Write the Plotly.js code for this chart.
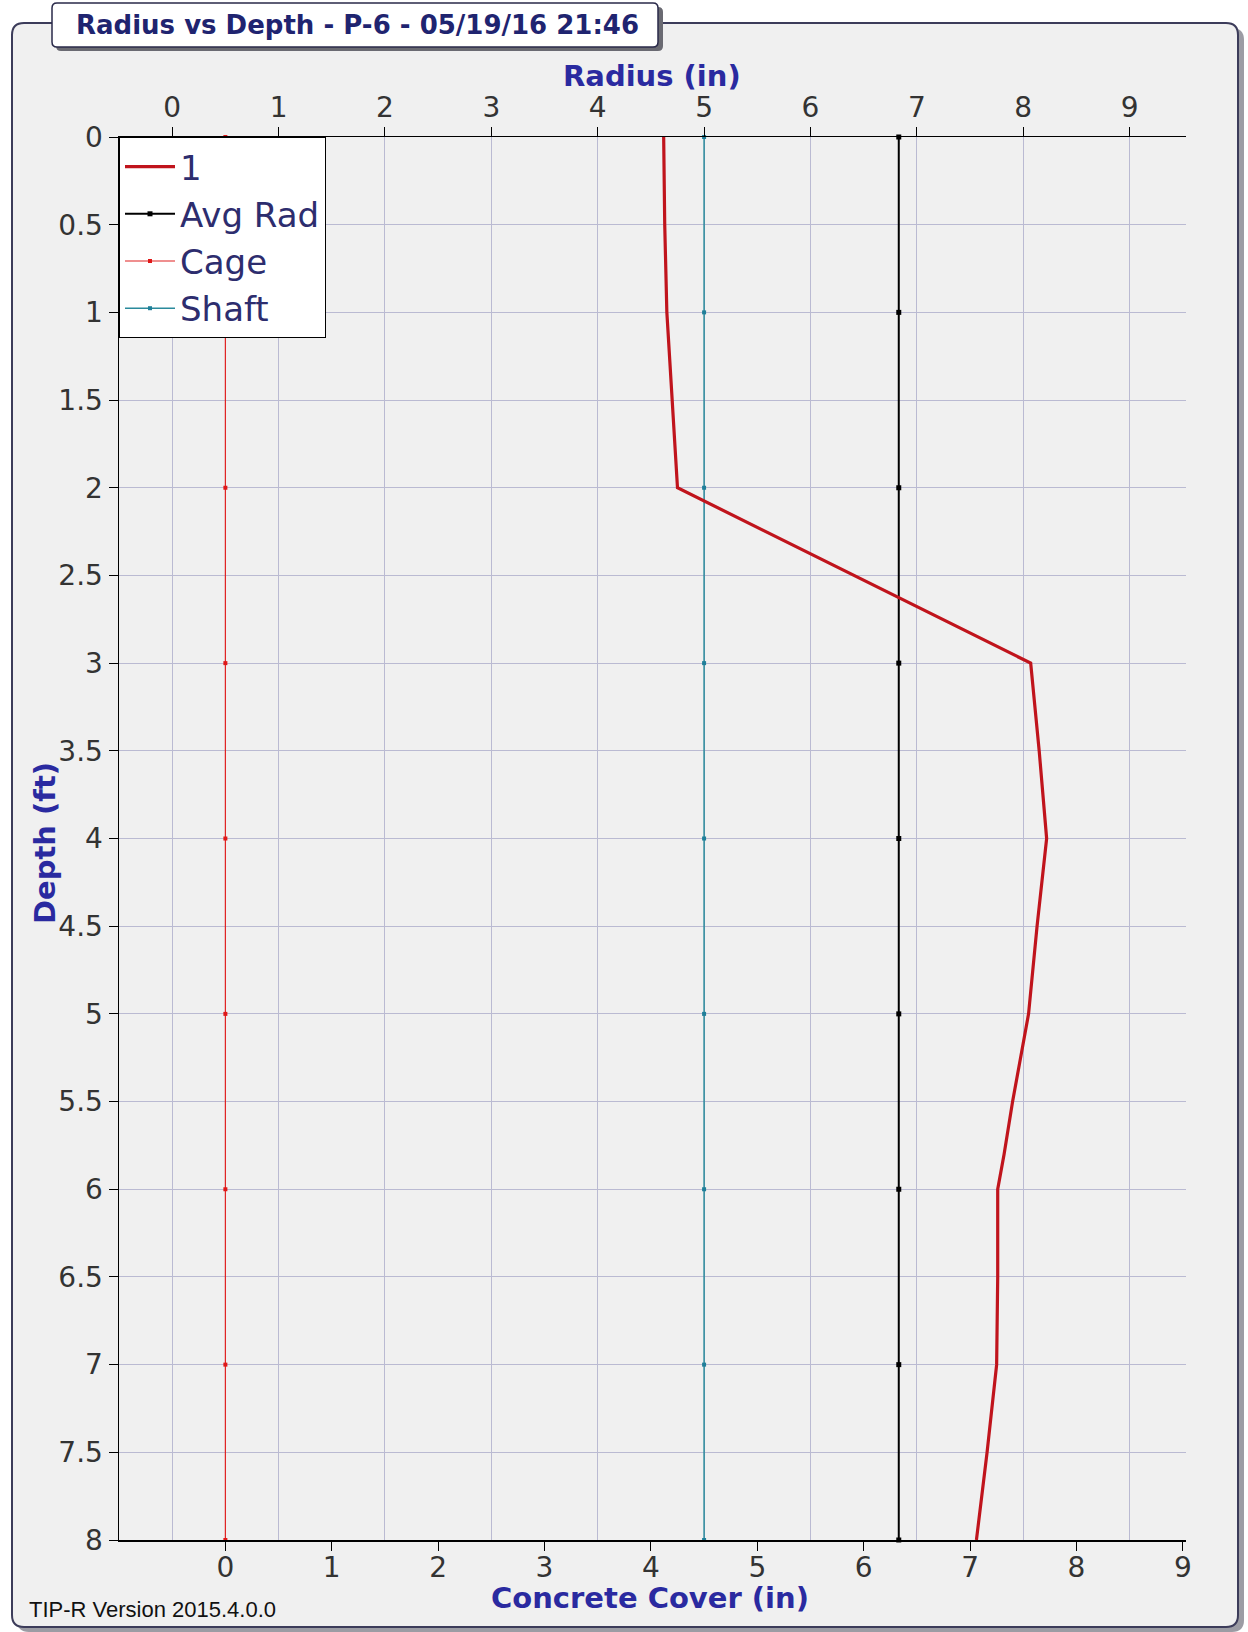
<!DOCTYPE html>
<html>
<head>
<meta charset="utf-8">
<script src="https://cdn.plot.ly/plotly-3.0.1.min.js"></script>
<style>
  body { margin: 0; background: #ffffff; }
  #graph_panel { width: 1248px; height: 1632px; }
</style>
</head>
<body>
<div id="graph_panel"></div>
<script>
// depth (ft) / radius (in)
var profileDepth = [0, 0.5, 1, 1.5, 2, 3, 3.5, 4, 4.5, 5, 5.5, 5.8, 6, 6.5, 7, 7.5, 8];
var profileRadius = [4.62, 4.63, 4.65, 4.70, 4.75, 8.07, 8.15, 8.22, 8.13, 8.05, 7.90, 7.82, 7.76, 7.76, 7.75, 7.66, 7.56];

// reference lines, one marker per foot
var markerDepth = [0, 1, 2, 3, 4, 5, 6, 7, 8];
var avgRadius = [6.83, 6.83, 6.83, 6.83, 6.83, 6.83, 6.83, 6.83, 6.83];
var shaftRadius = [5.0, 5.0, 5.0, 5.0, 5.0, 5.0, 5.0, 5.0, 5.0];
var cageCover = [0, 0, 0, 0, 0, 0, 0, 0, 0];

var radiusTicks = [0, 1, 2, 3, 4, 5, 6, 7, 8, 9];
var coverTicks = [0, 1, 2, 3, 4, 5, 6, 7, 8, 9];

var titleText = 'Radius vs Depth - P-6 - 05/19/16 21:46';
var footerText = 'TIP-R Version 2015.4.0.0';

// page geometry, pixels
var W = 1248, H = 1632;
var M = { l: 119, r: 62, t: 137, b: 92 };
var plotW = W - M.l - M.r, plotH = H - M.t - M.b;
function px(x) { return (x - M.l) / plotW; }
function py(y) { return (H - M.b - y) / plotH; }

function roundRect(x0, y0, x1, y1, r) {
  return 'M' + px(x0 + r) + ',' + py(y0) +
    ' L' + px(x1 - r) + ',' + py(y0) +
    ' Q' + px(x1) + ',' + py(y0) + ' ' + px(x1) + ',' + py(y0 + r) +
    ' L' + px(x1) + ',' + py(y1 - r) +
    ' Q' + px(x1) + ',' + py(y1) + ' ' + px(x1 - r) + ',' + py(y1) +
    ' L' + px(x0 + r) + ',' + py(y1) +
    ' Q' + px(x0) + ',' + py(y1) + ' ' + px(x0) + ',' + py(y1 - r) +
    ' L' + px(x0) + ',' + py(y0 + r) +
    ' Q' + px(x0) + ',' + py(y0) + ' ' + px(x0 + r) + ',' + py(y0) + ' Z';
}

function label(text, x, y, font, opts) {
  var a = { text: text, xref: 'paper', yref: 'paper', x: px(x), y: py(y),
    xanchor: 'center', yanchor: 'middle', showarrow: false, font: font };
  for (var k in opts) a[k] = opts[k];
  return a;
}

function createGraph() {
  var avg = {
    x: avgRadius, y: markerDepth, xaxis: 'x2', yaxis: 'y',
    mode: 'lines+markers', name: 'Avg Rad', legendrank: 2, cliponaxis: false,
    line: { color: '#000000', width: 2 },
    marker: { symbol: 'square', size: 5, color: '#000000' }
  };
  var cage = {
    x: cageCover, y: markerDepth, xaxis: 'x', yaxis: 'y',
    mode: 'lines+markers', name: 'Cage', legendrank: 3, cliponaxis: false,
    line: { color: '#e02020', width: 1.2 },
    marker: { symbol: 'square', size: 4, color: '#e01818' }
  };
  var shaft = {
    x: shaftRadius, y: markerDepth, xaxis: 'x2', yaxis: 'y',
    mode: 'lines+markers', name: 'Shaft', legendrank: 4, cliponaxis: false,
    line: { color: '#2a8a9c', width: 1.5 },
    marker: { symbol: 'square', size: 4, color: '#1f7f99' }
  };
  var profile = {
    x: profileRadius, y: profileDepth, xaxis: 'x2', yaxis: 'y',
    mode: 'lines', name: '1', legendrank: 1, cliponaxis: false,
    line: { color: '#c0141c', width: 3.2 }
  };

  var data = [cage, avg, shaft, profile];

  var tickFont = { family: 'DejaVu Sans', size: 28, color: '#333333' };
  var axTitleFont = { family: 'DejaVu Sans', size: 29, color: '#2a2aa0', weight: 'bold' };

  var layout = {
    width: W, height: H,
    margin: M,
    paper_bgcolor: '#ffffff',
    plot_bgcolor: 'rgba(0,0,0,0)',
    showlegend: true,
    legend: {
      x: 0, y: 1, xanchor: 'left', yanchor: 'top',
      bgcolor: '#ffffff', bordercolor: '#000000', borderwidth: 1,
      font: { family: 'DejaVu Sans', size: 34, color: '#2d2d6e' },
      traceorder: 'normal', itemwidth: 50
    },
    xaxis: {
      range: [-1.0, 9.03],
      tickvals: coverTicks,
      showgrid: false, zeroline: false,
      showline: true, linecolor: '#000000', linewidth: 1.5,
      ticks: 'outside', ticklen: 9, tickcolor: '#000000',
      ticklabelstandoff: -7,
      tickfont: tickFont
    },
    xaxis2: {
      overlaying: 'x', side: 'top', anchor: 'y',
      range: [-0.5, 9.53],
      tickvals: radiusTicks,
      showgrid: true, gridcolor: '#babad2', gridwidth: 1, zeroline: false,
      showline: true, linecolor: '#000000', linewidth: 1.5,
      ticks: 'outside', ticklen: 9, tickcolor: '#000000',
      ticklabelstandoff: -2,
      tickfont: tickFont
    },
    yaxis: {
      range: [8, 0],
      dtick: 0.5, tick0: 0,
      showgrid: true, gridcolor: '#babad2', gridwidth: 1, zeroline: false,
      showline: true, linecolor: '#000000', linewidth: 1.5,
      ticks: 'outside', ticklen: 9, tickcolor: '#000000',
      tickfont: tickFont
    },
    shapes: [
      { type: 'path', xref: 'paper', yref: 'paper', layer: 'below',
        path: roundRect(17, 28, 1244, 1632, 12), fillcolor: '#9c9ca4', line: { width: 0 } },
      { type: 'path', xref: 'paper', yref: 'paper', layer: 'below',
        path: roundRect(12, 23, 1238, 1627, 12), fillcolor: '#f0f0f0', line: { color: '#3c3c5a', width: 2 } },
      { type: 'path', xref: 'paper', yref: 'paper', layer: 'below',
        path: roundRect(56, 7, 663, 51, 5), fillcolor: '#6a6a72', line: { width: 0 } },
      { type: 'path', xref: 'paper', yref: 'paper', layer: 'below',
        path: roundRect(52, 3, 658, 47, 5), fillcolor: '#ffffff', line: { color: '#2a2a4a', width: 1.5 } }
    ],
    annotations: [
      label('<b>' + titleText + '</b>', 357, 25, { family: 'DejaVu Sans', size: 26, color: '#1f2470' }),
      label('<b>Radius (in)</b>', 652, 76, axTitleFont),
      label('<b>Concrete Cover (in)</b>', 650, 1598, axTitleFont),
      label('<b>Depth (ft)</b>', 45, 843, axTitleFont, { textangle: -90 }),
      label(footerText, 27, 1609, { family: 'Liberation Sans Narrow, Liberation Sans', size: 22, color: '#111111' },
        { xanchor: 'left' })
    ]
  };

  Plotly.newPlot('graph_panel', data, layout, { staticPlot: true });
}

createGraph();
</script>
</body>
</html>
